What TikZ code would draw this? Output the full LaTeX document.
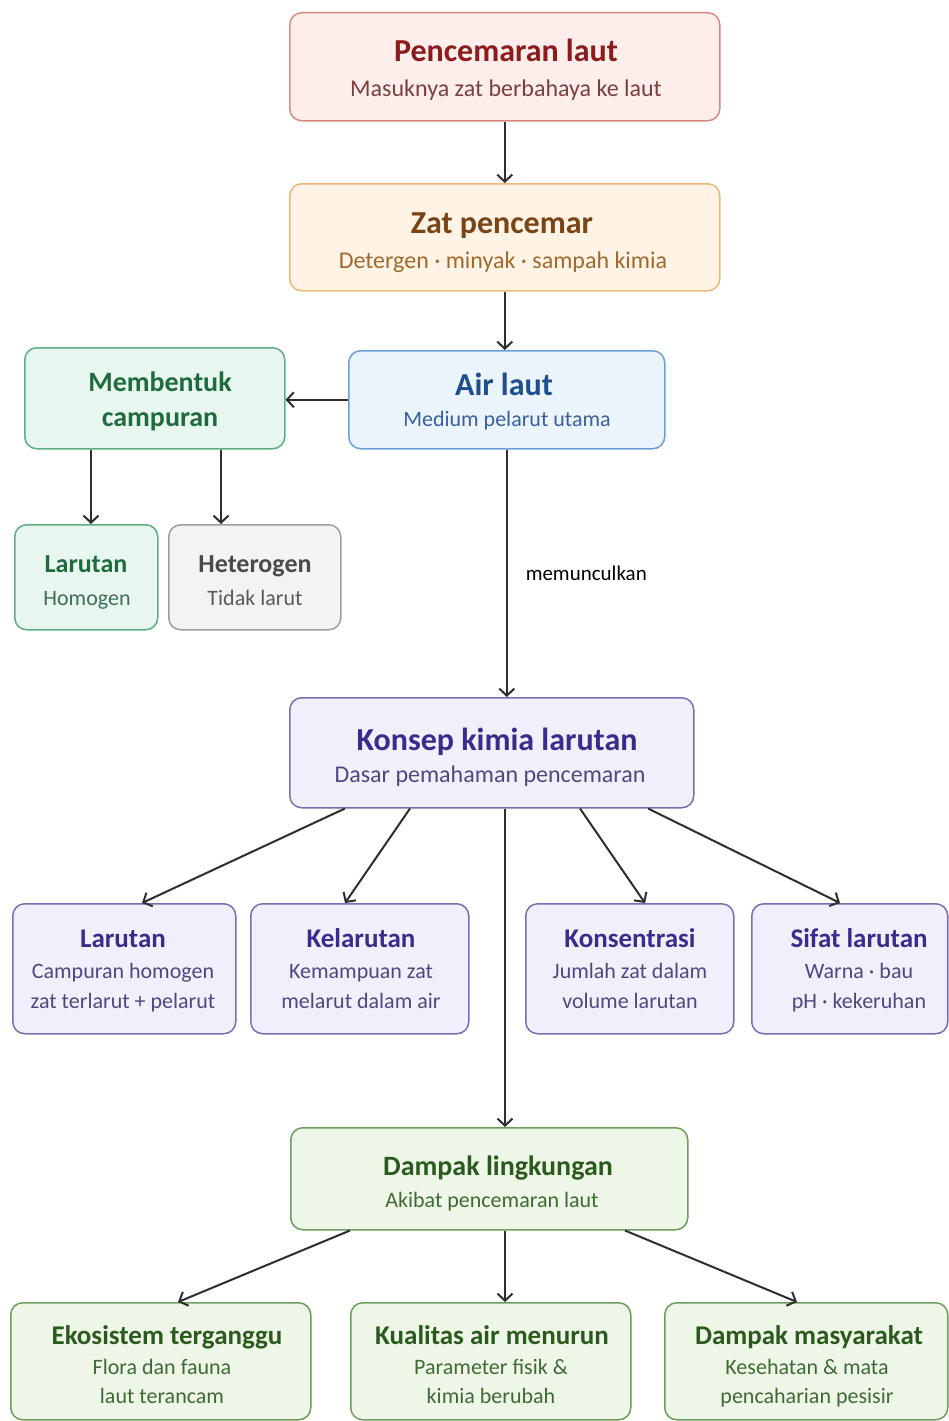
\documentclass[tikz,border=0pt]{standalone}
\usepackage{fontspec}
\setmainfont{Carlito}
\usetikzlibrary{arrows.meta}
\definecolor{rF}{HTML}{FDEDEB}\definecolor{rD}{HTML}{D98A80}\definecolor{rT}{HTML}{8E1B1B}\definecolor{rS}{HTML}{7B3F3F}
\definecolor{oF}{HTML}{FEF3E4}\definecolor{oD}{HTML}{EDB877}\definecolor{oT}{HTML}{7A4516}\definecolor{oS}{HTML}{A2692D}
\definecolor{bF}{HTML}{EBF4FD}\definecolor{bD}{HTML}{6E9FD6}\definecolor{bT}{HTML}{1F4E8F}\definecolor{bS}{HTML}{3B5F9E}
\definecolor{mF}{HTML}{E7F6EE}\definecolor{mD}{HTML}{5FAE84}\definecolor{mT}{HTML}{1F6B3E}\definecolor{mS}{HTML}{3F6F55}
\definecolor{gF}{HTML}{F3F3F3}\definecolor{gD}{HTML}{9E9E9E}\definecolor{gT}{HTML}{4A4A4A}\definecolor{gS}{HTML}{5A5A5A}
\definecolor{lF}{HTML}{F2EFFC}\definecolor{lD}{HTML}{7C6DB4}\definecolor{lT}{HTML}{3A2C8C}\definecolor{lS}{HTML}{4F4880}
\definecolor{eF}{HTML}{EEF7E7}\definecolor{eD}{HTML}{6E9E5E}\definecolor{eT}{HTML}{2B5A1E}\definecolor{eS}{HTML}{3F6A35}
\definecolor{arr}{HTML}{2E2E2E}
\begin{document}
\begin{tikzpicture}[x=1pt,y=-1pt,
  box/.style={draw, rounded corners=12pt, line width=1.5pt, inner sep=0pt, anchor=north west},
  red/.style={box, fill=rF, draw=rD},
  org/.style={box, fill=oF, draw=oD},
  blu/.style={box, fill=bF, draw=bD},
  mnt/.style={box, fill=mF, draw=mD},
  gry/.style={box, fill=gF, draw=gD},
  lav/.style={box, fill=lF, draw=lD},
  grn/.style={box, fill=eF, draw=eD},
  txt/.style={anchor=base, inner sep=0pt},
  tA/.style={txt, font=\fontsize{32}{36}\selectfont\bfseries},
  tB/.style={txt, font=\fontsize{28}{32}\selectfont\bfseries},
  tC/.style={txt, font=\fontsize{27}{30}\selectfont\bfseries},
  tD/.style={txt, font=\fontsize{26}{30}\selectfont\bfseries},
  sA/.style={txt, font=\fontsize{24}{28}\selectfont},
  sB/.style={txt, font=\fontsize{22}{26}\selectfont},
  conn/.style={draw=arr, line width=2pt, -{Straight Barb[length=7pt,width=15pt,line width=2pt]}}]
\useasboundingbox[fill=white] (0,0) rectangle (949,1421);
% ---- boxes
\node[red, minimum width=430pt, minimum height=108pt] (pl) at (289,12) {};
\node[org, minimum width=430pt, minimum height=107pt] (zp) at (289,183) {};
\node[blu, minimum width=316pt, minimum height=98pt] (al) at (348,350) {};
\node[mnt, minimum width=260pt, minimum height=101pt] (mc) at (24,347) {};
\node[mnt, minimum width=143pt, minimum height=105pt] (lh) at (14,524) {};
\node[gry, minimum width=172pt, minimum height=105pt] (ht) at (168,524) {};
\node[lav, minimum width=404pt, minimum height=110pt] (kk) at (289,697) {};
\node[lav, minimum width=223pt, minimum height=130pt] (la) at (12,903) {};
\node[lav, minimum width=218pt, minimum height=130pt] (ke) at (250,903) {};
\node[lav, minimum width=208pt, minimum height=130pt] (ko) at (525,903) {};
\node[lav, minimum width=196pt, minimum height=130pt] (sl) at (751,903) {};
\node[grn, minimum width=397pt, minimum height=102pt] (dl) at (290,1127) {};
\node[grn, minimum width=300pt, minimum height=117pt] (et) at (10,1302) {};
\node[grn, minimum width=280pt, minimum height=117pt] (ka) at (350,1302) {};
\node[grn, minimum width=283pt, minimum height=117pt] (dm) at (664,1302) {};
% ---- texts
\node[tA, text=rT] (pl-t) at (506,62) {Pencemaran laut};
\node[sA, text=rS] (pl-s) at (506,96) {Masuknya zat berbahaya ke laut};
\node[tA, text=oT] (zp-t) at (502,233) {Zat pencemar};
\node[sA, text=oS] (zp-s) at (503,268) {Detergen · minyak · sampah kimia};
\node[tA, text=bT] (al-t) at (504,395) {Air laut};
\node[sB, text=bS] (al-s) at (507,426) {Medium pelarut utama};
\node[tB, text=mT] (mc-t) at (160,391) {Membentuk};
\node[tB, text=mT] (mc-u) at (160,426) {campuran};
\node[tD, text=mT] (lh-t) at (86,572) {Larutan};
\node[sB, text=mS] (lh-s) at (87,605) {Homogen};
\node[tD, text=gT] (ht-t) at (255,572) {Heterogen};
\node[sB, text=gS] (ht-s) at (255,605) {Tidak larut};
\node[tA, text=lT] (kk-t) at (497,750) {Konsep kimia larutan};
\node[sA, text=lS] (kk-s) at (490,782) {Dasar pemahaman pencemaran};
\node[tC, text=lT] (la-t) at (123,947) {Larutan};
\node[sB, text=lS] (la-s) at (123,978) {Campuran homogen};
\node[sB, text=lS] (la-u) at (123,1008) {zat terlarut + pelarut};
\node[tC, text=lT] (ke-t) at (361,947) {Kelarutan};
\node[sB, text=lS] (ke-s) at (361,978) {Kemampuan zat};
\node[sB, text=lS] (ke-u) at (361,1008) {melarut dalam air};
\node[tC, text=lT] (ko-t) at (630,947) {Konsentrasi};
\node[sB, text=lS] (ko-s) at (630,978) {Jumlah zat dalam};
\node[sB, text=lS] (ko-u) at (630,1008) {volume larutan};
\node[tC, text=lT] (sl-t) at (859,947) {Sifat larutan};
\node[sB, text=lS] (sl-s) at (859,978) {Warna · bau};
\node[sB, text=lS] (sl-u) at (859,1008) {pH · kekeruhan};
\node[tB, text=eT] (dl-t) at (498,1175) {Dampak lingkungan};
\node[sB, text=eS] (dl-s) at (492,1207) {Akibat pencemaran laut};
\node[tC, text=eT] (et-t) at (167,1344) {Ekosistem terganggu};
\node[sB, text=eS] (et-s) at (162,1374) {Flora dan fauna};
\node[sB, text=eS] (et-u) at (162,1403) {laut terancam};
\node[tC, text=eT] (ka-t) at (492,1344) {Kualitas air menurun};
\node[sB, text=eS] (ka-s) at (491,1374) {Parameter fisik \&};
\node[sB, text=eS] (ka-u) at (491,1403) {kimia berubah};
\node[tC, text=eT] (dm-t) at (809,1344) {Dampak masyarakat};
\node[sB, text=eS] (dm-s) at (807,1374) {Kesehatan \& mata};
\node[sB, text=eS] (dm-u) at (807,1403) {pencaharian pesisir};
% ---- connectors
\coordinate (x1) at (91,0);
\coordinate (x2) at (221,0);
\draw[conn] (pl.south) -- (pl.south |- zp.north);
\draw[conn] (zp.south) -- (zp.south |- al.north);
\draw[conn] (al.west) -- (al.west -| mc.east);
\draw[conn] (mc.south -| x1) -- (lh.north -| x1);
\draw[conn] (mc.south -| x2) -- (ht.north -| x2);
\draw[conn] (al.south) -- node[pos=0.5, anchor=west, xshift=18pt, font=\fontsize{21}{24}\selectfont, text=black, inner sep=0pt] (mu) {memunculkan} (al.south |- kk.north);
\draw[conn] ([xshift=56pt]kk.south west) -- ([xshift=130pt]la.north west);
\draw[conn] ([xshift=121pt]kk.south west) -- ([xshift=95pt]ke.north west);
\draw[conn] ([xshift=216pt]kk.south west) -- ([xshift=215pt]dl.north west);
\draw[conn] ([xshift=291pt]kk.south west) -- ([xshift=120pt]ko.north west);
\draw[conn] ([xshift=359pt]kk.south west) -- ([xshift=89pt]sl.north west);
\draw[conn] ([xshift=60pt]dl.south west) -- ([xshift=168pt]et.north west);
\draw[conn] ([xshift=215pt]dl.south west) -- ([xshift=155pt]ka.north west);
\draw[conn] ([xshift=335pt]dl.south west) -- ([xshift=133pt]dm.north west);
\end{tikzpicture}
\end{document}
